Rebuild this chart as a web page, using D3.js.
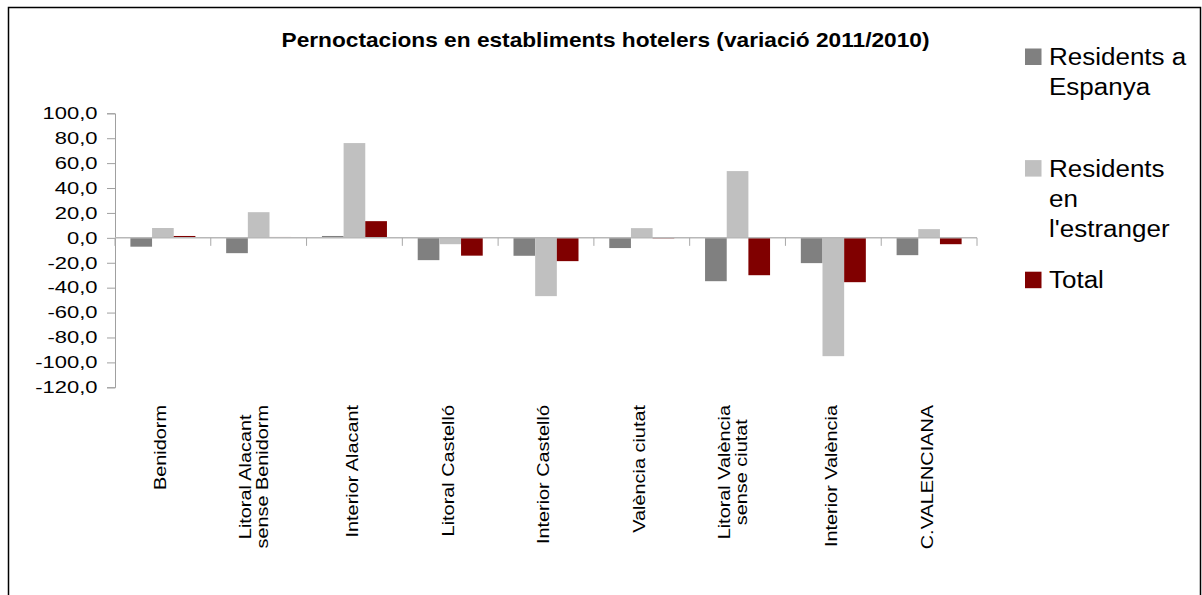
<!DOCTYPE html>
<html>
<head>
<meta charset="utf-8">
<script src="https://cdn.jsdelivr.net/npm/d3@7"></script>
<style>
  body { margin: 0; background: #fff; }
  text { font-family: "Liberation Sans", Arial, sans-serif; fill: #000; }
</style>
</head>
<body>
<div id="chart"></div>
<script>
// chart data
var categories = ["Benidorm", "Litoral Alacant sense Benidorm", "Interior Alacant", "Litoral Castelló",
                  "Interior Castelló", "València ciutat", "Litoral València sense ciutat", "Interior València", "C.VALENCIANA"];
var categoryLines = [["Benidorm"], ["Litoral Alacant", "sense Benidorm"], ["Interior Alacant"], ["Litoral Castelló"],
                     ["Interior Castelló"], ["València ciutat"], ["Litoral València", "sense ciutat"], ["Interior València"], ["C.VALENCIANA"]];
var seriesNames = ["Residents a Espanya", "Residents en l'estranger", "Total"];
var legendLines = [["Residents a", "Espanya"], ["Residents", "en", "l'estranger"], ["Total"]];
var espanya   = [-7.1, -12.3, 1.5, -17.9, -14.4, -8.2, -34.8, -20.3, -13.9];
var estranger = [7.9, 20.6, 76.1, -5.1, -46.8, 7.8, 53.6, -95.0, 7.0];
var total     = [1.5, 0.7, 13.4, -14.3, -18.7, -0.4, -30.0, -35.6, -5.1];
var yTicks = [100, 80, 60, 40, 20, 0, -20, -40, -60, -80, -100, -120];
var colors = ["#808080", "#c0c0c0", "#800000"];
var title = "Pernoctacions en establiments hotelers (variació 2011/2010)";

var width = 1202, height = 595;
var plot = {left: 115, right: 977, top: 113.3, bottom: 387.3};

// stretch text a bit wider, the original export is wider than the font
function stretch(sel, k){
  sel.each(function(){
    var w = this.getComputedTextLength();
    this.setAttribute("textLength", w * k);
    this.setAttribute("lengthAdjust", "spacingAndGlyphs");
  });
}

var svg = d3.select("#chart").append("svg")
            .attr("width", width)
            .attr("height", height);

// outer frame
svg.append("rect")
   .attr("x", 8.5).attr("y", 7.5)
   .attr("width", 1192).attr("height", 600)
   .attr("fill", "none")
   .attr("stroke", "#000")
   .attr("stroke-width", 1.5);

var x0 = d3.scaleBand().domain(categories).range([plot.left, plot.right]);
var x1 = d3.scaleBand().domain(seriesNames).range([0, x0.bandwidth()]).paddingInner(0).paddingOuter(0.71);
var y = d3.scaleLinear().domain([-120, 100]).range([plot.bottom, plot.top]);

var fmt = d3.formatLocale({decimal: ",", thousands: ".", grouping: [3], currency: ["", "€"], minus: "-"}).format(".1f");

// y axis
var yAxis = svg.append("g")
   .attr("transform", "translate(" + plot.left + ",0)")
   .call(d3.axisLeft(y).tickValues(yTicks).tickFormat(fmt).tickSize(8).tickPadding(9.5));
yAxis.select(".domain").attr("stroke", "#a0a0a0");
yAxis.selectAll(".tick line").attr("stroke", "#a0a0a0");
yAxis.selectAll("text")
     .attr("font-size", 16.5)
     .attr("fill", "#000")
     .style("font-family", "'Liberation Sans', Arial, sans-serif")
     .call(stretch, 1.33);

// bars
var seriesValues = [espanya, estranger, total];
var groups = svg.selectAll("g.cat")
   .data(categories)
   .enter().append("g")
   .attr("class", "cat")
   .attr("transform", function(d){ return "translate(" + x0(d) + ",0)"; });

groups.selectAll("rect")
   .data(function(d, i){ return seriesNames.map(function(s, j){ return {s: s, v: seriesValues[j][i], c: colors[j]}; }); })
   .enter().append("rect")
   .attr("x", function(d){ return x1(d.s); })
   .attr("width", x1.bandwidth())
   .attr("y", function(d){ return y(Math.max(0, d.v)); })
   .attr("height", function(d){ return Math.abs(y(d.v) - y(0)); })
   .attr("fill", function(d){ return d.c; });

// x axis line at zero with ticks between categories
var xAxis = svg.append("g")
   .attr("transform", "translate(0," + y(0) + ")");
xAxis.append("line")
   .attr("x1", plot.left).attr("x2", plot.right)
   .attr("stroke", "#b8b8b8").attr("stroke-width", 1.5);
var boundaries = categories.map(function(c){ return x0(c); }).concat([plot.right]);
xAxis.selectAll("line.tk")
   .data(boundaries)
   .enter().append("line")
   .attr("class", "tk")
   .attr("x1", function(d){ return d; }).attr("x2", function(d){ return d; })
   .attr("y1", 0).attr("y2", 8)
   .attr("stroke", "#a8a8a8");

// category labels, rotated
var lineGap = 16.7;
var labelTop = 405;
categoryLines.forEach(function(lines, i){
  var cx = x0(categories[i]) + x0.bandwidth() / 2 - 1.5 - (lines.length - 1) * 2.5;
  var g = svg.append("g").attr("transform", "translate(" + cx + "," + labelTop + ") rotate(-90)");
  var texts = g.selectAll("text").data(lines).enter().append("text")
     .attr("font-size", 16.3)
     .attr("text-anchor", "middle")
     .attr("dy", "0.3em")
     .attr("y", function(d, k){ return (k - (lines.length - 1) / 2) * lineGap; })
     .text(function(d){ return d; });
  texts.call(stretch, 1.22);
  var maxLen = 0;
  texts.each(function(){ maxLen = Math.max(maxLen, +this.getAttribute("textLength")); });
  texts.attr("x", -maxLen / 2);
});

// title
svg.append("text")
   .attr("x", 605.5).attr("y", 47)
   .attr("text-anchor", "middle")
   .attr("font-size", 21)
   .attr("font-weight", "bold")
   .text(title)
   .call(stretch, 1.08);

// legend
var legend = svg.selectAll("g.legend")
   .data(seriesNames)
   .enter().append("g")
   .attr("class", "legend")
   .attr("transform", function(d, i){ return "translate(1025," + (65 + i * 111.6) + ")"; });
legend.append("rect")
   .attr("x", 0).attr("y", -16.5)
   .attr("width", 16.5).attr("height", 16.5)
   .attr("fill", function(d, i){ return colors[i]; });
legend.each(function(d, i){
  d3.select(this).selectAll("text")
    .data(legendLines[i])
    .enter().append("text")
    .attr("x", 24)
    .attr("y", function(t, k){ return k * 30; })
    .attr("font-size", 23)
    .text(function(t){ return t; })
    .call(stretch, 1.13);
});
</script>
</body>
</html>
